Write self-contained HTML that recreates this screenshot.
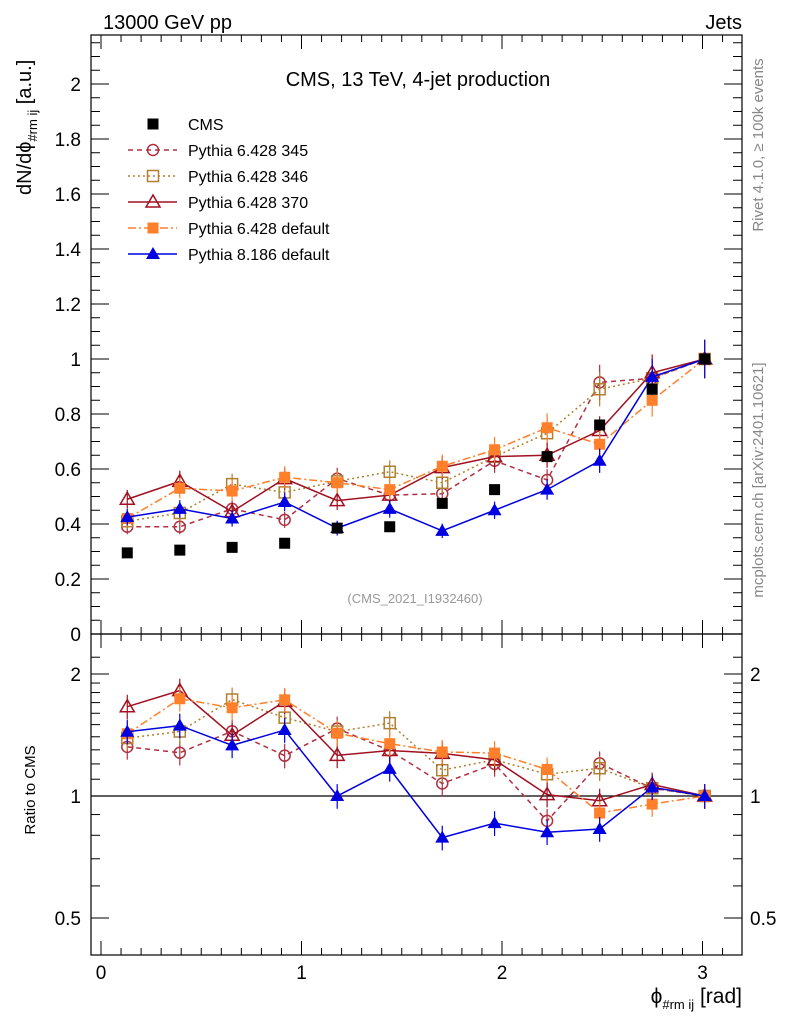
<!DOCTYPE html>
<html><head><meta charset="utf-8"><style>
html,body{margin:0;padding:0;background:#fff;}
svg{display:block;font-family:"Liberation Sans",sans-serif;}
</style></head><body>
<svg id="c" width="786" height="1024" viewBox="0 0 786 1024" xmlns="http://www.w3.org/2000/svg">
<text x="103" y="29" font-size="20">13000 GeV pp</text>
<text x="742" y="29" font-size="20" text-anchor="end">Jets</text>
<text x="418" y="86" font-size="20" text-anchor="middle">CMS, 13 TeV, 4-jet production</text>
<text x="415" y="603" font-size="13" fill="#999" text-anchor="middle">(CMS_2021_I1932460)</text>
<text transform="translate(763,145) rotate(-90)" font-size="15" fill="#888" text-anchor="middle">Rivet 4.1.0, ≥ 100k events</text>
<text transform="translate(763,480) rotate(-90)" font-size="15" fill="#888" text-anchor="middle">mcplots.cern.ch [arXiv:2401.10621]</text>
<text transform="translate(31,195) rotate(-90)" font-size="20">dN/dϕ<tspan font-size="13" dy="6">#rm ij</tspan><tspan dy="-6"> [a.u.]</tspan></text>
<text transform="translate(35,790) rotate(-90)" font-size="15" text-anchor="middle">Ratio to CMS</text>
<text x="742" y="1003" font-size="21" text-anchor="end">ϕ<tspan font-size="13" dy="6">#rm ij</tspan><tspan dy="-6"> [rad]</tspan></text>
<g id="g"></g>
</svg>
<script>
const xCenters=[0.131,0.393,0.654,0.916,1.178,1.440,1.702,1.963,2.225,2.487,2.749,3.011];
const cmsVals=[0.295,0.305,0.315,0.33,0.385,0.39,0.475,0.525,0.645,0.76,0.89,1.0];
const p345=[0.39,0.39,0.455,0.415,0.565,0.505,0.51,0.63,0.56,0.915,0.93,1.0];
const p346=[0.41,0.44,0.545,0.515,0.555,0.59,0.55,0.645,0.73,0.89,0.93,1.0];
const p370=[0.49,0.555,0.445,0.565,0.485,0.505,0.605,0.645,0.65,0.74,0.95,1.0];
const p6def=[0.42,0.53,0.52,0.57,0.55,0.525,0.61,0.67,0.75,0.69,0.85,1.0];
const p8def=[0.425,0.455,0.42,0.48,0.385,0.455,0.375,0.45,0.525,0.63,0.935,1.0];
const mainTicks=["0","0.2","0.4","0.6","0.8","1","1.2","1.4","1.6","1.8","2"];
const xTicks=["0","1","2","3"];
const ratioTicks=["0.5","1","2"];
const legendLabels=["CMS","Pythia 6.428 345","Pythia 6.428 346","Pythia 6.428 370","Pythia 6.428 default","Pythia 8.186 default"];

const L=91,R=742,T=35,M=634,B=955;
const X=v=>101+200.5*v;
const Y=v=>634-275*v;
const YR=r=>796-122*Math.log2(r);
const ns="http://www.w3.org/2000/svg";
const g=document.getElementById('g');
function el(t,a,p){const e=document.createElementNS(ns,t);for(const k in a)e.setAttribute(k,a[k]);(p||g).appendChild(e);return e;}

let f1=el('rect',{x:L,y:T,width:R-L,height:M-T,fill:'none',stroke:'#000','stroke-width':1.2});


let f2=el('rect',{x:L,y:M,width:R-L,height:B-M,fill:'none',stroke:'#000','stroke-width':1.2});


let one=el('line',{x1:L,x2:R,y1:YR(1),y2:YR(1),stroke:'#000','stroke-width':1.2});



for(let i=0;i<=34;i++){const vv=i/10;const maj=i%10==0;const len=maj?14:7;const x=X(vv);if(x<L||x>R)continue;
 for(const [y0,y1] of [[M,M-len],[T,T+len],[B,B-len],[M,M+len]]) el('line',{x1:x,x2:x,y1:y0,y2:y1,stroke:'#000'});}
xTicks.forEach(t=>{const tx=el('text',{x:X(+t),y:979,'font-size':19,'text-anchor':'middle'});tx.textContent=t;

});
for(let i=0;i<=43;i++){const v=i*0.05;const y=Y(v);if(y<T)break;const maj=i%4==0;const len=maj?18:9;
 el('line',{x1:L,x2:L+len,y1:y,y2:y,stroke:'#000'});el('line',{x1:R,x2:R-len,y1:y,y2:y,stroke:'#000'});}
mainTicks.forEach(t=>{const tx=el('text',{x:81,y:Y(+t)+7,'font-size':19,'text-anchor':'end'});tx.textContent=t;

});
[0.4,0.5,0.6,0.7,0.8,0.9,1,1.1,1.2,1.3,1.4,1.5,1.6,1.7,1.8,1.9,2,2.2].forEach(r=>{const y=YR(r);if(y<M||y>B)return;const maj=[0.5,1,2].includes(r);const len=maj?18:9;
 el('line',{x1:L,x2:L+len,y1:y,y2:y,stroke:'#000'});el('line',{x1:R,x2:R-len,y1:y,y2:y,stroke:'#000'});});
ratioTicks.forEach(t=>{for(const [x,a] of [[81,'end'],[750,'start']]){const tx=el('text',{x:x,y:YR(+t)+7,'font-size':19,'text-anchor':a});tx.textContent=t;

}});

function marker(kind,x,y,c){
 if(kind==='fsq') return el('rect',{x:x-5.5,y:y-5.5,width:11,height:11,fill:c});
 if(kind==='osq') return el('rect',{x:x-5.5,y:y-5.5,width:11,height:11,fill:'none',stroke:c,'stroke-width':1.5});
 if(kind==='ocirc') return el('circle',{cx:x,cy:y,r:5.5,fill:'none',stroke:c,'stroke-width':1.5});
 if(kind==='otri') return el('path',{d:`M${x},${y-7}L${x+7},${y+5}L${x-7},${y+5}Z`,fill:'none',stroke:c,'stroke-width':1.5});
 if(kind==='ftri') return el('path',{d:`M${x},${y-7}L${x+7},${y+5}L${x-7},${y+5}Z`,fill:c});
}
const series=[
 {name:'pythia-6-345',d:p345,c:'#b03040',dash:'5,4',m:'ocirc'},
 {name:'pythia-6-346',d:p346,c:'#b08030',dash:'2,3',m:'osq'},
 {name:'pythia-6-370',d:p370,c:'#a01020',dash:'',m:'otri'},
 {name:'pythia-6-default',d:p6def,c:'#ff7f2a',dash:'8,3,2,3',m:'fsq'},
 {name:'pythia-8-default',d:p8def,c:'#0000e0',dash:'',m:'ftri'}];
series.forEach(s=>{
 for(const panel of ['main','ratio']){
  const ys=s.d.map((v,i)=>panel==='main'?Y(v):YR(v/cmsVals[i]));
  const ln=el('polyline',{points:xCenters.map((x,i)=>X(x)+','+ys[i]).join(' '),fill:'none',stroke:s.c,'stroke-width':1.5,'stroke-dasharray':s.dash});
  
  
  s.d.forEach((v,i)=>{
   const e=0.07*v;
   const y1=panel==='main'?Y(v+e):YR((v+e)/cmsVals[i]);const y2=panel==='main'?Y(v-e):YR((v-e)/cmsVals[i]);
   el('line',{x1:X(xCenters[i]),x2:X(xCenters[i]),y1:y1,y2:y2,stroke:s.c,'stroke-width':1.2});
   const mk=marker(s.m,X(xCenters[i]),ys[i],s.c);
   
   
  });
 }
});
cmsVals.forEach((v,i)=>{const mk=marker('fsq',X(xCenters[i]),Y(v),'#000');
 
 });
const legMarks=[['fsq','#000',''],['ocirc','#b03040','5,4'],['osq','#b08030','2,3'],['otri','#a01020',''],['fsq','#ff7f2a','8,3,2,3'],['ftri','#0000e0','']];
legendLabels.forEach((t,i)=>{const y=124+26*i;
 if(i>0){const l=el('line',{x1:128,x2:177,y1:y,y2:y,stroke:legMarks[i][1],'stroke-width':1.5,'stroke-dasharray':legMarks[i][2]});
 
 }
 marker(legMarks[i][0],153,y,legMarks[i][1]);
 const tx=el('text',{x:188,y:y+6,'font-size':16});tx.textContent=t;
 
 });
</script>
</body></html>
